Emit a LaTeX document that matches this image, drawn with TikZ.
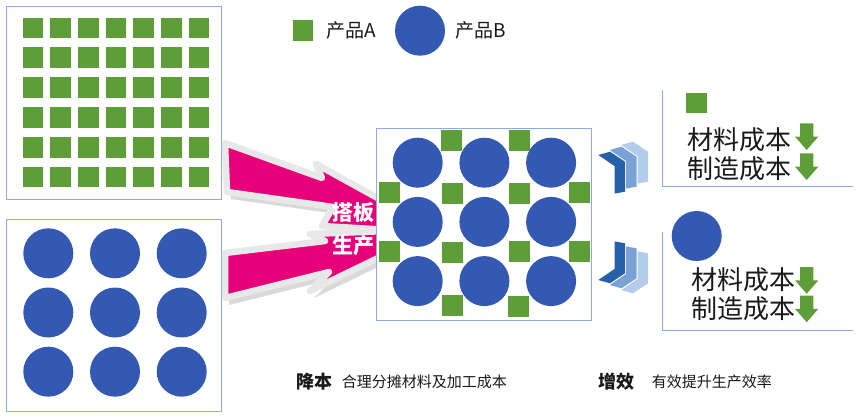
\documentclass[tikz,border=0pt]{standalone}
\usepackage{fontspec}
\setmainfont{Noto Sans CJK SC}
\usepackage{xcolor}
\definecolor{prodgreen}{RGB}{94,158,56}
\definecolor{prodblue}{RGB}{51,89,178}
\definecolor{arrowpink}{RGB}{230,0,122}
\definecolor{frameblue}{RGB}{143,170,220}
\definecolor{chevdark}{RGB}{38,96,168}
\definecolor{chevmid}{RGB}{122,162,214}
\definecolor{chevlight}{RGB}{180,204,235}
\definecolor{txtgray}{RGB}{25,25,25}
\usetikzlibrary{shadows}

\tikzset{
  prodA/.style={rectangle, fill=prodgreen, minimum size=20.7pt, inner sep=0pt},
  prodB/.style={circle, fill=prodblue, minimum size=50pt, inner sep=0pt},
  panel/.style={draw=frameblue, line width=1pt, fill=white},
  bigarrow/.style={fill=arrowpink, draw=black!9, line width=6.5pt, line join=round,
    drop shadow={shadow xshift=4pt, shadow yshift=-7pt, opacity=.3}},
  costline/.style={draw=frameblue, line width=1pt},
  costtext/.style={font=\fontsize{26}{28}\selectfont, text=txtgray, inner sep=0pt, anchor=west},
  keytext/.style={font=\fontsize{19}{21}\selectfont, text=txtgray, inner sep=0pt, anchor=west}
}

\begin{document}
\begin{tikzpicture}[x=1pt, y=-1pt]
  \useasboundingbox (0,0) rectangle (865,420);

  % Panel A
  \draw[panel] (6.7,6.7) rectangle (221.7,199);
  \foreach \i in {0,...,6}
    \foreach \j in {0,...,5}
      \node[prodA] (pa-\i-\j) at ({33.05+27.67*\i},{28.05+29.8*\j}) {};

  % Panel B
  \draw[panel] (6.7,219.3) rectangle (221.7,411);
  \foreach \i in {0,1,2}
    \foreach \j in {0,1,2}
      \node[prodB] (pb-\i-\j) at ({48.3+66.7*\i},{253.3+59.2*\j}) {};

  % Merge arrows
  \draw[bigarrow] (225,143) -- (322,178) -- (316,164) -- (441,233) -- (322,226) -- (333,207) -- (227,192) -- cycle;
  \draw[bigarrow] (225,253) -- (325,241) -- (310,234) -- (438,229) -- (310,291) -- (329,272) -- (225,298) -- cycle;
  \node[font=\fontsize{21}{23}\selectfont\bfseries, white, inner sep=0pt] (join1) at (353,213) {搭板};
  \node[font=\fontsize{21}{23}\selectfont\bfseries, white, inner sep=0pt] (join2) at (353,246) {生产};

  % Mixed panel
  \draw[panel] (376,128.3) rectangle (591,320);
  \foreach \i in {0,1,2}
    \foreach \j in {0,1,2}
      \node[prodB] (pm-\i-\j) at ({417.7+66.7*\i},{162.7+59.2*\j}) {};
  \foreach \x/\y [count=\n] in {451.5/140.5, 519/140.5,
      389.5/192.5, 452/193, 519.5/193, 579.5/192.5,
      389.5/251.5, 452/252, 519.5/251.5, 579.5/251.5,
      452/305.5, 518/306.5}
    \node[prodA, minimum size=21pt] (qm-\n) at (\x,\y) {};

  % Chevrons
  \foreach \k/\c in {0/chevdark, 1/chevmid, 2/chevlight} {
    \fill[\c] ({598.3+11.5*\k},{155-5*\k}) -- ++(11.7,-3.3) -- ++(15,10) -- ++(0,30) -- ++(-10.5,1.9) -- ++(0,-27.6) -- cycle;
    \fill[\c] ({598.3+11.5*\k},{280+5*\k}) -- ++(11.7,3.3) -- ++(15,-10) -- ++(0,-30) -- ++(-10.5,-1.9) -- ++(0,27.6) -- cycle;
  }

  % Cost box A
  \draw[costline] (662.3,90) -- (662.3,186.7) -- (853.3,186.7);
  \node[prodA] (ka) at (696.8,103) {};
  \node[costtext] (ka1) at (687,140) {材料成本};
  \node[costtext] (ka2) at (687,168.3) {制造成本};

  % Cost box B
  \draw[costline] (662.3,231.7) -- (662.3,330) -- (853.3,330);
  \node[prodB] (kb) at (696.7,236) {};
  \node[costtext] (kb1) at (691.7,280) {材料成本};
  \node[costtext] (kb2) at (691.7,308.3) {制造成本};

  % Down arrows
  \foreach \y in {123.3,153.3,267,295.5}
    \fill[prodgreen] (800,\y) -- (813.3,\y) -- ({813.3},{\y+13.4}) -- ({818.3},{\y+13.4}) -- ({806.7},{\y+26.7}) -- ({795},{\y+13.4}) -- ({800},{\y+13.4}) -- cycle;

  % Legend
  \node[prodA] (keya) at (303,30.4) {};
  \node[keytext] (keya-t) at (326,30) {产品A};
  \node[prodB] (keyb) at (420,30.7) {};
  \node[keytext] (keyb-t) at (455,30) {产品B};

  % Notes
  \node[font=\fontsize{18}{20}\selectfont\bfseries, text=txtgray, inner sep=0pt, anchor=west] (note1) at (296,381.7) {降本};
  \node[font=\fontsize{15}{17}\selectfont, text=txtgray, inner sep=0pt, anchor=west] (note1-t) at (341.7,381.7) {合理分摊材料及加工成本};
  \node[font=\fontsize{18}{20}\selectfont\bfseries, text=txtgray, inner sep=0pt, anchor=west] (note2) at (598.3,381.7) {增效};
  \node[font=\fontsize{15}{17}\selectfont, text=txtgray, inner sep=0pt, anchor=west] (note2-t) at (651.7,381.7) {有效提升生产效率};
\end{tikzpicture}
\end{document}
